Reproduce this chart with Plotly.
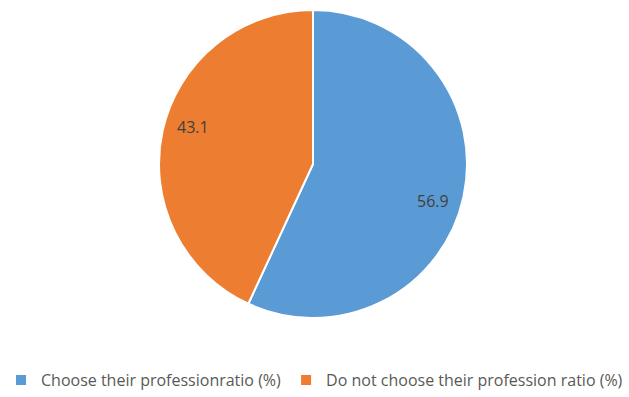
import math
import plotly.graph_objects as go

labels = ["Choose their professionratio (%)", "Do not choose their profession ratio (%)"]
values = [56.9, 43.1]
colors = ["#5B9BD5", "#ED7D31"]

W, H = 629, 397
cx, cy, r = 313, 164, 154
dom_x = [(cx - r) / W, (cx + r) / W]
dom_y = [1 - (cy + r) / H, 1 - (cy - r) / H]

fig = go.Figure(go.Pie(
    labels=labels, values=values,
    marker=dict(colors=colors, line=dict(color="white", width=2)),
    direction="clockwise", sort=False, rotation=0,
    textinfo="none", hoverinfo="label+value",
    domain=dict(x=dom_x, y=dom_y),
))

total = sum(values)
cum = 0
annotations = []
for v in values:
    mid = (cum + v / 2) / total * 2 * math.pi + math.radians(4.5)
    cum += v
    rr = 0.815 * r
    px = cx + rr * math.sin(mid)
    py = cy - rr * math.cos(mid)
    annotations.append(dict(
        x=px / W, y=1 - py / H, xref="paper", yref="paper",
        xanchor="center", yanchor="middle",
        text=f"{v}", showarrow=False,
        font=dict(family="Open Sans, sans-serif", size=16, color="#404040"),
    ))

fig.update_layout(
    width=W, height=H,
    margin=dict(l=0, r=0, t=0, b=0, autoexpand=False),
    paper_bgcolor="white", plot_bgcolor="white",
    annotations=annotations,
    legend=dict(
        orientation="h", x=0.5, xanchor="center", y=0.0, yanchor="bottom",
        font=dict(family="Open Sans, sans-serif", size=16, color="#595959"),
        itemsizing="constant", itemwidth=30, traceorder="normal",
    ),
)
fig.write_html("out.html")
